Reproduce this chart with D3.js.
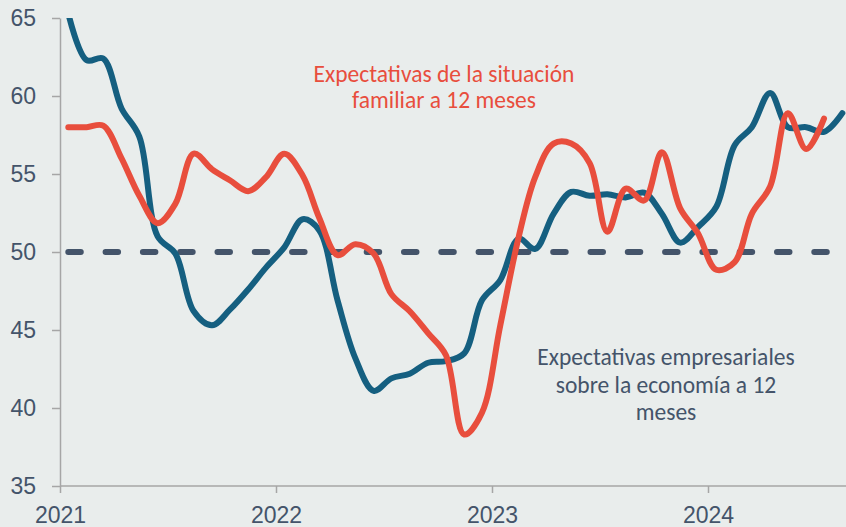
<!DOCTYPE html>
<html>
<head>
<meta charset="utf-8">
<script src="https://cdn.jsdelivr.net/npm/d3@7"></script>
<style>
  html, body { margin: 0; padding: 0; background: #e9edec; }
  svg { display: block; font-family: Carlito, Lato, "Open Sans", sans-serif; }
</style>
</head>
<body>
<div id="chart"></div>
<script>
// Datos mensuales, enero 2021 en adelante
const inicio = new Date(2021, 0, 15);
const empresarial = [
  65.3, 62.3, 62.4, 59.2, 57.4, 51.0, 49.9, 46.2, 45.3, 46.3, 47.6, 49.0,
  50.3, 52.1, 51.4, 46.9, 43.2, 41.1, 41.9, 42.2, 42.9, 43.0, 43.5, 46.9,
  48.2, 50.85, 50.2, 52.45, 53.85, 53.6, 53.7, 53.5, 53.8, 52.45, 50.6, 51.6,
  52.9, 56.85, 58.0, 60.2, 58.0, 58.0, 57.7, 58.9
];
const familiar = [
  58.0, 58.0, 58.1, 56.0, 53.6, 51.85, 53.1, 56.3, 55.3, 54.6, 53.9, 54.8,
  56.3, 54.9, 52.2, 49.8, 50.5, 49.9, 47.3, 46.2, 44.8, 43.4, 38.3, 39.7,
  45.3, 50.95, 54.8, 56.95, 56.95, 55.7, 51.3, 54.06, 53.3, 56.4, 52.8, 51.2,
  48.86, 49.35, 52.45, 54.2, 58.9, 56.6, 58.55
];
const umbral = 50;
const yTicks = [35, 40, 45, 50, 55, 60, 65];
const xTicks = ["2021", "2022", "2023", "2024"];
const etiquetaFamiliar = ["Expectativas de la situación", "familiar a 12 meses"];
const etiquetaEmpresarial = ["Expectativas empresariales", "sobre la economía a 12", "meses"];

const W = 846, H = 527;
const colorAzul = "#155f80";
const colorRojo = "#e84e3d";
const colorTexto = "#44546a";
const colorEje = "#a6a6a6";

const fecha = i => d3.timeMonth.offset(inicio, i);

const svg = d3.select("#chart").append("svg")
    .attr("width", W)
    .attr("height", H);

const x = d3.scaleTime()
    .domain([new Date(2021, 0, 1), new Date(2024, 0, 1)])
    .range([60, 708]);
const y = d3.scaleLinear()
    .domain([35, 65])
    .range([486, 18]);

svg.append("defs").append("clipPath")
    .attr("id", "plot")
    .append("rect")
    .attr("x", 60).attr("y", y(65))
    .attr("width", W - 60).attr("height", y(35) - y(65));

// eje Y
const yAxis = svg.append("g")
    .attr("transform", "translate(60,0)")
    .call(d3.axisLeft(y).tickValues(yTicks).tickSize(8).tickPadding(16).tickSizeOuter(0));
yAxis.select(".domain").attr("stroke", colorEje).attr("stroke-width", 1.5);
yAxis.selectAll(".tick line").attr("stroke", colorEje).attr("stroke-width", 1.5);
yAxis.selectAll(".tick text")
    .attr("fill", colorTexto)
    .style("font-size", "23px");

// eje X
const xAxis = svg.append("g")
    .attr("transform", `translate(0,${y(35)})`)
    .call(d3.axisBottom(x)
        .tickValues(xTicks.map(t => new Date(+t, 0, 1)))
        .tickFormat(d3.timeFormat("%Y"))
        .tickSize(7).tickPadding(14).tickSizeOuter(0));
xAxis.select(".domain").attr("stroke", colorEje).attr("stroke-width", 1.5)
    .attr("d", `M60,0H${W}`);
xAxis.selectAll(".tick line").attr("stroke", colorEje).attr("stroke-width", 1.5);
xAxis.selectAll(".tick text")
    .attr("fill", colorTexto)
    .style("font-size", "23px");

const g = svg.append("g").attr("clip-path", "url(#plot)");

// línea de 50
const nMax = Math.max(empresarial.length, familiar.length);
g.append("line")
    .attr("x1", x(fecha(0)))
    .attr("x2", x(fecha(nMax - 1)))
    .attr("y1", y(umbral))
    .attr("y2", y(umbral))
    .attr("stroke", colorTexto)
    .attr("stroke-width", 6)
    .attr("stroke-linecap", "round")
    .attr("stroke-dasharray", "12.5,24.8");

const linea = d3.line()
    .x((d, i) => x(fecha(i)))
    .y(d => y(d))
    .curve(d3.curveCatmullRom.alpha(0.5));

g.append("path")
    .datum(empresarial)
    .attr("fill", "none")
    .attr("stroke", colorAzul)
    .attr("stroke-width", 6)
    .attr("stroke-linecap", "round")
    .attr("stroke-linejoin", "round")
    .attr("d", linea);

g.append("path")
    .datum(familiar)
    .attr("fill", "none")
    .attr("stroke", colorRojo)
    .attr("stroke-width", 6)
    .attr("stroke-linecap", "round")
    .attr("stroke-linejoin", "round")
    .attr("d", linea);

// etiquetas
svg.append("text")
    .attr("x", 444).attr("y", 82)
    .attr("text-anchor", "middle")
    .attr("fill", colorRojo)
    .style("font-size", "23.5px")
    .selectAll("tspan")
    .data(etiquetaFamiliar)
    .join("tspan")
    .attr("x", 444)
    .attr("dy", (d, i) => i ? 26 : 0)
    .text(d => d);

svg.append("text")
    .attr("x", 666).attr("y", 365)
    .attr("text-anchor", "middle")
    .attr("fill", colorTexto)
    .style("font-size", "23.5px")
    .selectAll("tspan")
    .data(etiquetaEmpresarial)
    .join("tspan")
    .attr("x", 666)
    .attr("dy", (d, i) => i ? 27.5 : 0)
    .text(d => d);
</script>
</body>
</html>
